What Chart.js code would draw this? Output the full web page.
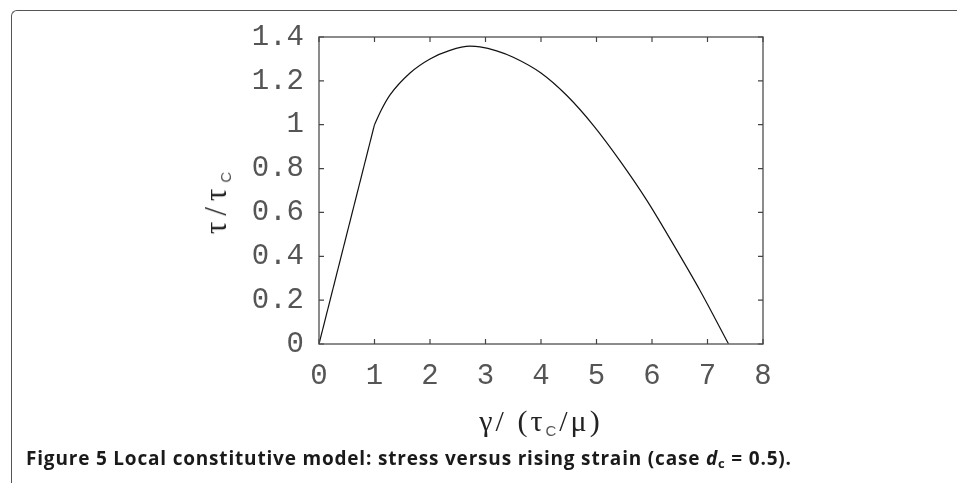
<!DOCTYPE html>
<html>
<head>
<meta charset="utf-8">
<script src="https://cdn.jsdelivr.net/npm/chart.js"></script>
<style>
    body { margin: 0; background: #fff; }
    #wrap { position: relative; width: 957px; height: 483px; overflow: hidden; background: #fff; }
    #frame {
        position: absolute; left: 11px; top: 10px; width: 980px; height: 520px;
        border-left: 1.5px solid #555; border-top: 1.5px solid #555;
        border-top-left-radius: 6px;
    }
    #c { position: absolute; left: 0; top: 0; }
    .title { position: absolute; font-family: "Liberation Serif", serif; color: #222; white-space: nowrap; }
    .title sub { font-family: "Liberation Sans", sans-serif; font-size: 15px; vertical-align: -5px; color: #555; }
    #xtitle { left: 541px; top: 421px; font-size: 30px; letter-spacing: 3px; transform: translate(-50%, -50%); }
    #ytitle { left: 216px; top: 200px; font-size: 31px; letter-spacing: 6px; transform: translate(-50%, -50%) rotate(-90deg); }
    #caption {
        position: absolute; left: 26px; top: 445px; font-family: "Open Sans", sans-serif;
        font-weight: 700; font-size: 19px; color: #1a1a1a; white-space: nowrap;
    }
    #caption sub { font-size: 13px; vertical-align: -3px; }
</style>
</head>
<body>
<div id="wrap">
    <div id="frame"></div>
    <canvas id="c" width="957" height="483"></canvas>
    <div id="ytitle" class="title">&tau;/&tau;<sub>C</sub></div>
    <div id="xtitle" class="title">&gamma;/&nbsp;(&tau;<sub>C</sub>/&mu;)</div>
    <div id="caption">Figure 5 Local constitutive model: stress versus rising strain (case <i>d</i><sub>c</sub> = 0.5).</div>
</div>
<script>
// elastic branch (straight line up to the critical strain)
const strainElastic = [0, 1];
const stressElastic = [0, 1];

// softening branch
const strainSoft = [1, 1.12, 1.28, 1.64, 2.0, 2.36, 2.72, 2.9, 3.2, 3.5, 4.0, 4.47, 4.95, 5.43, 5.91, 6.39, 6.87, 7.38];
const stressSoft = [1, 1.066, 1.136, 1.236, 1.30, 1.339, 1.358, 1.355, 1.337, 1.308, 1.236, 1.132, 0.995, 0.833, 0.654, 0.452, 0.242, 0];

const xTickValues = [0, 1, 2, 3, 4, 5, 6, 7, 8];
const xTickLabels = ["0", "1", "2", "3", "4", "5", "6", "7", "8"];
const yTickValues = [0, 0.2, 0.4, 0.6, 0.8, 1, 1.2, 1.4];
const yTickLabels = ["0", "0.2", "0.4", "0.6", "0.8", "1", "1.2", "1.4"];

const toPoints = (xs, ys) => xs.map((x, i) => ({ x: x, y: ys[i] }));

// box round the plot with inward ticks on all four sides
const frameTicks = {
    id: "frameTicks",
    afterDraw(chart) {
        const { ctx, chartArea: a, scales } = chart;
        const len = 5;
        ctx.save();
        ctx.strokeStyle = "#666";
        ctx.lineWidth = 1.5;
        ctx.strokeRect(a.left, a.top, a.right - a.left, a.bottom - a.top);
        ctx.lineWidth = 1.2;
        ctx.strokeStyle = "#444";
        ctx.beginPath();
        xTickValues.forEach(v => {
            const px = scales.x.getPixelForValue(v);
            ctx.moveTo(px, a.bottom); ctx.lineTo(px, a.bottom - len);
            ctx.moveTo(px, a.top); ctx.lineTo(px, a.top + len);
        });
        yTickValues.forEach(v => {
            const py = scales.y.getPixelForValue(v);
            ctx.moveTo(a.left, py); ctx.lineTo(a.left + len, py);
            ctx.moveTo(a.right, py); ctx.lineTo(a.right - len, py);
        });
        ctx.stroke();
        ctx.restore();
    }
};

const tickFont = { family: "'Liberation Mono', monospace", size: 29 };

new Chart(document.getElementById("c"), {
    type: "line",
    data: {
        datasets: [
            {
                data: toPoints(strainElastic, stressElastic),
                borderColor: "#111",
                borderWidth: 1.2,
                pointRadius: 0,
                tension: 0
            },
            {
                data: toPoints(strainSoft, stressSoft),
                borderColor: "#111",
                borderWidth: 1.2,
                pointRadius: 0,
                cubicInterpolationMode: "monotone"
            }
        ]
    },
    options: {
        responsive: false,
        animation: false,
        layout: { padding: { left: 0, top: 37, right: 194, bottom: 60 } },
        plugins: { legend: { display: false }, tooltip: { enabled: false } },
        scales: {
            x: {
                type: "linear",
                min: 0,
                max: 8,
                afterFit: s => { s.height = 79; },
                afterBuildTicks: s => { s.ticks = xTickValues.map(v => ({ value: v })); },
                grid: { drawOnChartArea: false, drawTicks: false },
                border: { display: false },
                ticks: {
                    padding: 15,
                    color: "#555",
                    font: tickFont,
                    maxRotation: 0,
                    callback: v => xTickLabels[xTickValues.indexOf(v)]
                }
            },
            y: {
                type: "linear",
                min: 0,
                max: 1.4,
                afterFit: s => { s.width = 319; },
                afterBuildTicks: s => { s.ticks = yTickValues.map(v => ({ value: v })); },
                grid: { drawOnChartArea: false, drawTicks: false },
                border: { display: false },
                ticks: {
                    padding: 15,
                    color: "#555",
                    font: tickFont,
                    callback: v => yTickLabels[yTickValues.indexOf(v)]
                }
            }
        }
    },
    plugins: [frameTicks]
});

// stretch the caption to the width it has in the figure
const cap = document.getElementById("caption");
const extra = (766 - cap.getBoundingClientRect().width) / cap.textContent.length;
cap.style.letterSpacing = extra.toFixed(2) + "px";
</script>
</body>
</html>
